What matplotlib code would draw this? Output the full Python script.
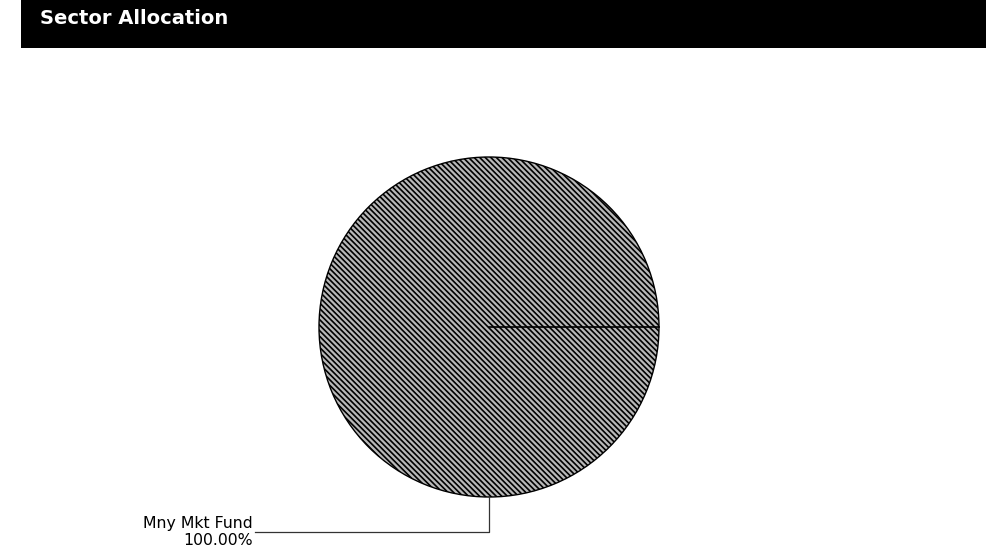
import matplotlib
matplotlib.use("Agg")
import matplotlib.pyplot as plt
from matplotlib.patches import Rectangle
import numpy as np

title = "Sector Allocation"
labels = ["Mny Mkt Fund"]
values = [100.0]

W, H = 986, 557
plt.rcParams['hatch.linewidth'] = 1.2
plt.rcParams['hatch.color'] = 'black'
fig = plt.figure(figsize=(W / 100, H / 100), dpi=100)
ax = fig.add_axes([0, 0, 1, 1])
ax.set_xlim(0, W)
ax.set_ylim(0, H)
ax.set_aspect('equal')
ax.axis('off')

# title bar
ax.add_patch(Rectangle((21, H - 48), W - 21, 48, facecolor='black', edgecolor='none'))
ax.text(40, H - 18, title, color='white', fontsize=14, fontweight='bold',
        va='center', ha='left', family='DejaVu Sans')

cx, cy, r = 489, H - 327, 170
total = sum(values)
wedges, _ = ax.pie(values, center=(cx, cy), radius=r, startangle=0,
                   counterclock=True, frame=True,
                   wedgeprops=dict(facecolor='#b8b8b8', edgecolor='black',
                                   linewidth=1, hatch='\\\\\\\\\\\\'))
ax.set_xlim(0, W)
ax.set_ylim(0, H)
ax.axis('off')

# radial boundary lines of each wedge
for w in wedges:
    t = np.deg2rad(w.theta1)
    ax.plot([cx, cx + r * np.cos(t)], [cy, cy + r * np.sin(t)], color='black', lw=1.2)

# leader line and label (bottom of slice)
for w, lab, v in zip(wedges, labels, values):
    ybot = cy - r
    yl = ybot - 35
    ax.plot([cx, cx, 255], [ybot, yl, yl], color='#333333', lw=0.9)
    ax.text(253, yl + 1, lab, ha='right', va='bottom', fontsize=11.3, color='black')
    ax.text(253, yl - 1, f"{v / total * 100:.2f}%", ha='right', va='top', fontsize=11.3, color='black')

fig.savefig('out.png', dpi=100)
